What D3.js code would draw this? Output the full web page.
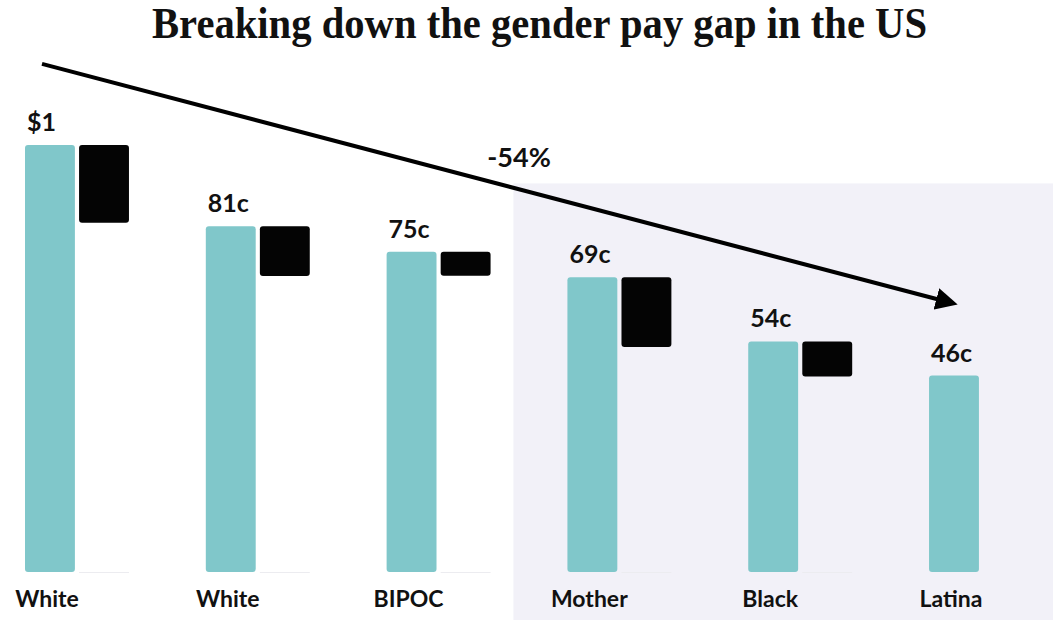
<!DOCTYPE html>
<html><head><meta charset="utf-8">
<script src="https://cdn.jsdelivr.net/npm/d3@7"></script>
<style>html,body{margin:0;padding:0;background:#fff;}svg{display:block;}</style>
</head><body>
<script>
const categories = ["White", "White", "BIPOC", "Mother", "Black", "Latina"];
const valueLabels = ["$1", "81c", "75c", "69c", "54c", "46c"];
const values = [1.00, 0.81, 0.75, 0.69, 0.54, 0.46];
const gapStart = [1.00, 0.81, 0.75, 0.69, 0.54, null];
const gapEnd   = [0.818, 0.693, 0.694, 0.527, 0.458, null];
const title = "Breaking down the gender pay gap in the US";
const changeLabel = "-54%";

const W = 1053, H = 620;
const svg = d3.select("body").append("svg").attr("width", W).attr("height", H);

const x = d3.scaleBand().domain(d3.range(categories.length)).range([25, 1033]).paddingInner(0.425).paddingOuter(0);
const sub = d3.scaleBand().domain(["value", "gap"]).range([0, x.bandwidth()]).paddingInner(0.0769);
const y = d3.scaleLinear().domain([0, 1]).range([572, 145]);

// highlight region
svg.append("rect").attr("x", x(3) - 54).attr("y", y(0.91)).attr("width", W - (x(3) - 54)).attr("height", H - y(0.91)).attr("fill", "#f2f1f8");

// title
svg.append("text").attr("x", 152).attr("y", 38)
  .attr("font-family", "'Liberation Serif', serif").attr("font-weight", "bold").attr("font-size", 44)
  .attr("textLength", 775).attr("lengthAdjust", "spacingAndGlyphs")
  .attr("fill", "#111").text(title);

// faint baselines under gap slots
svg.selectAll(".base").data(d3.range(categories.length).filter(i => gapStart[i] !== null)).join("line")
  .attr("x1", i => x(i) + sub("gap")).attr("x2", i => x(i) + sub("gap") + sub.bandwidth())
  .attr("y1", y(0) + 0.5).attr("y2", y(0) + 0.5).attr("stroke", "#ececf0").attr("stroke-width", 1);

// teal bars
svg.selectAll(".bar").data(values).join("rect")
  .attr("x", (d, i) => x(i) + sub("value")).attr("y", d => y(d))
  .attr("width", sub.bandwidth()).attr("height", d => y(0) - y(d))
  .attr("rx", 3).attr("fill", "#80c7ca");

// black gap bars
svg.selectAll(".gap").data(d3.range(categories.length).filter(i => gapStart[i] !== null)).join("rect")
  .attr("x", i => x(i) + sub("gap")).attr("y", i => y(gapStart[i]))
  .attr("width", sub.bandwidth()).attr("height", i => y(gapEnd[i]) - y(gapStart[i]))
  .attr("rx", 3).attr("fill", "#040404");

// value labels
svg.selectAll(".vl").data(values).join("text")
  .attr("x", (d, i) => x(i) + sub("value") + 2).attr("y", d => y(d) - 14)
  .attr("font-family", "Lato, sans-serif").attr("font-weight", "bold").attr("font-size", 25)
  .attr("fill", "#111").text((d, i) => valueLabels[i]);

// category labels
svg.selectAll(".cl").data(categories).join("text")
  .attr("x", (d, i) => x(i) + sub("value") + sub.bandwidth() / 2 - 3).attr("y", 607)
  .attr("text-anchor", "middle")
  .attr("font-family", "Lato, sans-serif").attr("font-weight", "bold").attr("font-size", 23)
  .attr("fill", "#111").text(d => d);

// arrow annotation
const defs = svg.append("defs");
defs.append("marker").attr("id", "ah").attr("viewBox", "0 0 10 10").attr("refX", 5).attr("refY", 5)
  .attr("markerWidth", 5.5).attr("markerHeight", 5.5).attr("orient", "auto").attr("markerUnits", "strokeWidth")
  .append("path").attr("d", "M0,0 L10,5 L0,10 Z").attr("fill", "#000");
const x0 = x(0) + 17, y0 = y(1.19), x1 = x(5) + 18, y1 = y(0.633);
svg.append("line").attr("x1", x0).attr("y1", y0).attr("x2", x1).attr("y2", y1)
  .attr("stroke", "#000").attr("stroke-width", 4).attr("marker-end", "url(#ah)");

svg.append("text").attr("x", 519).attr("y", 167).attr("text-anchor", "middle")
  .attr("font-family", "Lato, sans-serif").attr("font-weight", "bold").attr("font-size", 27)
  .attr("fill", "#111").text(changeLabel);
</script>
</body></html>
